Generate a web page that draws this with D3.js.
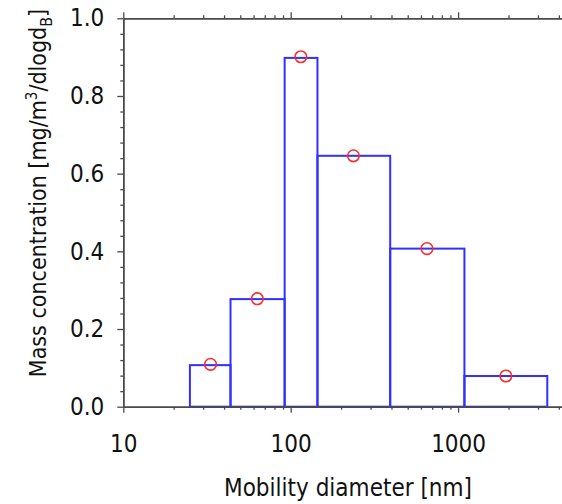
<!DOCTYPE html>
<html>
<head>
<meta charset="utf-8">
<script src="https://cdn.jsdelivr.net/npm/d3@7"></script>
<style>
  body { margin: 0; background: #fff; }
  svg { display: block; }
  text { font-family: "DejaVu Sans Condensed", "DejaVu Sans", sans-serif; font-stretch: condensed; }
</style>
</head>
<body>
<div id="chart"></div>
<script>
// bin edges of the size classes (nm)
var binEdges = [25, 43.7, 92, 144.5, 393, 1091, 3410];
// bar heights (mg/m3/dlogdB)
var binValues = [0.107, 0.277, 0.898, 0.646, 0.407, 0.079];
// red markers: mid diameter and value
var pointDiam = [33.2, 63.2, 115, 237, 652, 1930];
var pointValues = [0.109, 0.278, 0.901, 0.646, 0.407, 0.079];

var xMajor = [10, 100, 1000];
var yMajor = [0, 0.2, 0.4, 0.6, 0.8, 1.0];

var w = 562, h = 504;

var svg = d3.select("#chart")
  .append("svg")
  .attr("width", w)
  .attr("height", h);

// log x, the plotted decade is about 167 px wide
var x = d3.scaleLog()
  .domain([10, 10000])
  .range([123.3, 625.5]);

var y = d3.scaleLinear()
  .domain([0, 1])
  .range([406.7, 18.3]);

// minor ticks
var xMinor = [];
[10, 100, 1000].forEach(function(d){
  for (var k = 2; k <= 9; k++) xMinor.push(d * k);
});
var yMinor = d3.range(0, 1.001, 0.04).filter(function(d){
  return Math.abs(d * 5 - Math.round(d * 5)) > 1e-6;
});

var axisColor = "#4a4a4a";

function styleAxis(g){
  g.select(".domain").attr("stroke", axisColor).attr("stroke-width", 1.5);
  g.selectAll(".tick line").attr("stroke", axisColor).attr("stroke-width", 1.3);
  g.selectAll(".tick text").attr("fill", "#111").style("font-size", "24px");
}

// bars
svg.append("g")
  .selectAll("rect")
  .data(binValues)
  .enter()
  .append("rect")
    .attr("x", function(d, i){ return x(binEdges[i]); })
    .attr("width", function(d, i){ return x(binEdges[i + 1]) - x(binEdges[i]); })
    .attr("y", function(d){ return y(d); })
    .attr("height", function(d){ return y(0) - y(d); })
    .style("fill", "none")
    .style("stroke", "#3030ff")
    .style("stroke-width", 2);

// bottom axis
svg.append("g")
  .attr("transform", "translate(0," + y(0) + ")")
  .call(d3.axisBottom(x).tickValues(xMinor).tickSize(3).tickSizeOuter(0).tickFormat(""))
  .call(styleAxis);

svg.append("g")
  .attr("transform", "translate(0," + y(0) + ")")
  .call(d3.axisBottom(x).tickValues(xMajor).tickSize(6).tickSizeOuter(0)
    .tickPadding(22).tickFormat(d3.format("d")))
  .call(styleAxis);

// top axis, ticks only
svg.append("g")
  .attr("transform", "translate(0," + y(1) + ")")
  .call(d3.axisTop(x).tickValues(xMinor).tickSize(3).tickSizeOuter(0).tickFormat(""))
  .call(styleAxis);

svg.append("g")
  .attr("transform", "translate(0," + y(1) + ")")
  .call(d3.axisTop(x).tickValues(xMajor).tickSize(6).tickSizeOuter(0).tickFormat(""))
  .call(styleAxis);

// left axis
svg.append("g")
  .attr("transform", "translate(" + x(10) + ",0)")
  .call(d3.axisLeft(y).tickValues(yMinor).tickSize(3).tickSizeOuter(0).tickFormat(""))
  .call(styleAxis);

svg.append("g")
  .attr("transform", "translate(" + x(10) + ",0)")
  .call(d3.axisLeft(y).tickValues(yMajor).tickSize(6).tickSizeOuter(0)
    .tickPadding(13).tickFormat(d3.format(".1f")))
  .call(styleAxis);

// red circles
svg.append("g")
  .selectAll("circle")
  .data(pointValues)
  .enter()
  .append("circle")
    .attr("cx", function(d, i){ return x(pointDiam[i]); })
    .attr("cy", function(d){ return y(d); })
    .attr("r", 5.8)
    .style("fill", "none")
    .style("stroke", "#ff2a2a")
    .style("stroke-width", 1.6);

// axis titles
svg.append("text")
  .attr("x", 348)
  .attr("y", 496)
  .attr("text-anchor", "middle")
  .style("font-size", "24px")
  .attr("fill", "#111")
  .text("Mobility diameter [nm]");

var yt = svg.append("text")
  .attr("transform", "translate(46,193) rotate(-90)")
  .attr("text-anchor", "middle")
  .style("font-size", "23px")
  .attr("fill", "#111");
yt.append("tspan").text("Mass concentration [mg/m");
yt.append("tspan").attr("dy", -9).style("font-size", "15px").text("3");
yt.append("tspan").attr("dy", 9).text("/dlogd");
yt.append("tspan").attr("dy", 6).style("font-size", "16px").text("B");
yt.append("tspan").attr("dy", -6).text("]");
</script>
</body>
</html>
